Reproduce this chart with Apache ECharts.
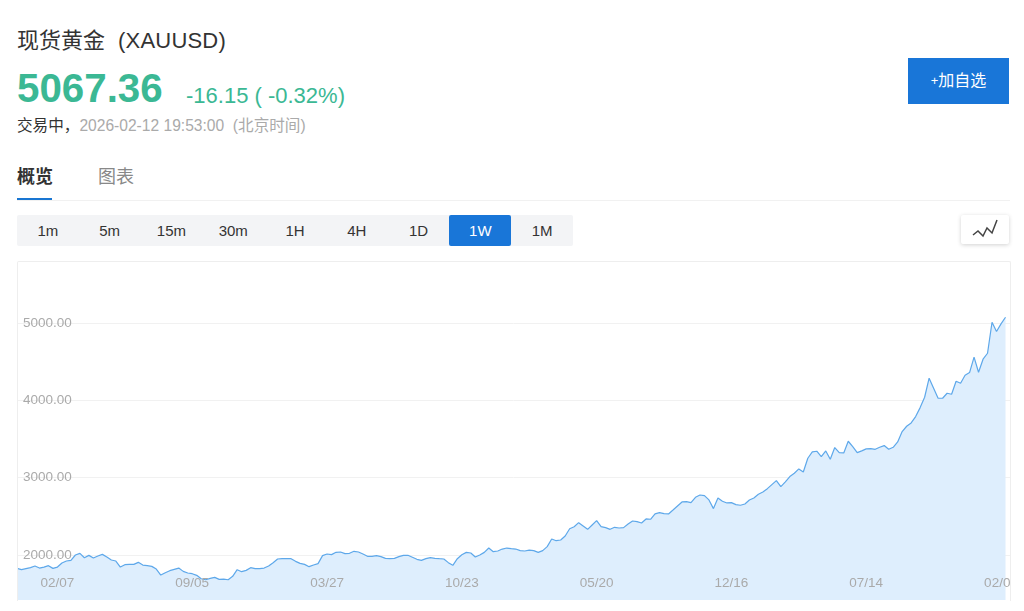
<!DOCTYPE html>
<html>
<head>
<meta charset="utf-8">
<title>现货黄金 (XAUUSD)</title>
<script src="https://cdn.jsdelivr.net/npm/echarts@6/dist/echarts.min.js"></script>
<style>
html, body { margin: 0; padding: 0; background: #fff; overflow: hidden; }
body { width: 1024px; height: 611px; position: relative; font-family: "Liberation Sans", "Noto Sans CJK SC", sans-serif; color: #333; }
.abs { position: absolute; white-space: nowrap; }
#title { left: 17px; top: 27px; font-size: 22px; line-height: 28px; color: #333; }
#title span { margin-left: 13px; letter-spacing: 0.2px; }
#price { left: 17px; top: 66px; font-size: 40.3px; line-height: 46px; font-weight: bold; color: #3bb894; }
#change { left: 186px; top: 82px; font-size: 22px; line-height: 28px; color: #3bb894; }
#status { left: 17px; top: 117px; font-size: 15.6px; line-height: 18px; color: #aaa; }
#status b { font-weight: normal; color: #333; }
#addBtn { left: 908px; top: 58px; width: 101px; height: 46px; line-height: 46px; text-align: center; background: #1976d8; color: #fff; font-size: 16px; }
#addBtn span { font-size: 13px; position: relative; top: -1px; }
#tab1 { left: 17px; top: 166px; font-size: 18px; line-height: 22px; font-weight: bold; color: #333; }
#tab2 { left: 98px; top: 166px; font-size: 18px; line-height: 22px; color: #888; }
#tabLine { left: 17px; top: 200px; width: 993px; height: 1px; background: #f1f1f1; }
#tabMark { left: 17px; top: 198px; width: 35px; height: 2px; background: #1976d2; }
#periods { left: 17px; top: 215px; width: 556px; height: 31px; background: #f3f4f6; border-radius: 2px; display: flex; }
#periods div { width: 61.8px; text-align: center; line-height: 31px; font-size: 15px; color: #333; }
#periods div.on { background: #1976d8; color: #fff; border-radius: 2px; }
#iconBtn { left: 961px; top: 215px; width: 48px; height: 29px; background: #fff; box-shadow: 0 1px 4px rgba(0,0,0,.18); border-radius: 2px; }
#chartBox { left: 17px; top: 261px; width: 993px; height: 339px; }
#chartBorder { left: 17px; top: 261px; width: 992px; height: 339px; border: 1px solid #eee; border-bottom: none; border-radius: 2px 2px 0 0; box-sizing: content-box; pointer-events: none; }
</style>
</head>
<body>
<div class="abs" id="title">现货黄金<span>(XAUUSD)</span></div>
<div class="abs" id="price">5067.36</div>
<div class="abs" id="change">-16.15 ( -0.32%)</div>
<div class="abs" id="status"><b>交易中，</b>2026-02-12 19:53:00&nbsp;&nbsp;(北京时间)</div>
<div class="abs" id="addBtn"><span>+</span>加自选</div>
<div class="abs" id="tab1">概览</div>
<div class="abs" id="tab2">图表</div>
<div class="abs" id="tabLine"></div>
<div class="abs" id="tabMark"></div>
<div class="abs" id="periods"></div>
<div class="abs" id="iconBtn">
    <svg width="48" height="29"><polyline points="12,20 17,16 22,21 26,13 31,18 36,5" fill="none" stroke="#444" stroke-width="1.5"/></svg>
</div>
<div class="abs" id="chartBox"></div>
<div class="abs" id="chartBorder"></div>

<script>
let periodNames = ['1m', '5m', '15m', '30m', '1H', '4H', '1D', '1W', '1M'];
let activePeriod = '1W';

// 周线收盘价，从图上读的
let prices2022 = [1827, 1810, 1823, 1836, 1857, 1831, 1844, 1862, 1827, 1844, 1896, 1922, 1931, 2000, 2021, 1965, 1995, 1961, 1987, 2008, 1974, 1935, 1922, 1844, 1875, 1879, 1879, 1905, 1870, 1862, 1853, 1818];
let prices2022b = [1741, 1771, 1797, 1814, 1831, 1788, 1767, 1758, 1737, 1693, 1680, 1698, 1711, 1685, 1689, 1680, 1724, 1810, 1784, 1801, 1836, 1823, 1823, 1831, 1857, 1900, 1948, 1952, 1952, 1952, 1918];
let prices2023 = [1892, 1879, 1849, 1871, 1888, 1992, 2013, 2005, 2035, 2039, 2017, 2022, 2048, 2039, 2013, 1983, 1983, 1992, 1979, 1957, 1953, 1957, 1979, 1996, 1996, 1970, 1944, 1931, 1953, 1966, 1957];
let prices2024 = [1952, 1948, 1901, 1866, 1952, 2004, 2034, 2026, 1974, 2000, 2034, 2090, 2043, 2052, 2077, 2090, 2082, 2077, 2056, 2052, 2064, 2056, 2034, 2056, 2108, 2207, 2185, 2194, 2246, 2340, 2366];
let prices2024b = [2418, 2375, 2332, 2388, 2444, 2367, 2354, 2332, 2358, 2349, 2354, 2401, 2440, 2431, 2414, 2466, 2462, 2531, 2548, 2535, 2531, 2582, 2634, 2686, 2690, 2677, 2746, 2776, 2768, 2712, 2600];
let prices2025 = [2738, 2695, 2673, 2677, 2651, 2643, 2660, 2712, 2738, 2785, 2815, 2858, 2910, 2962, 2884, 2945, 3014, 3057, 3113, 3074, 3251, 3333, 3342, 3272, 3346, 3238, 3389, 3324, 3320, 3471, 3402, 3324];
let prices2025b = [3346, 3372, 3376, 3367, 3393, 3415, 3367, 3393, 3462, 3596, 3665, 3708, 3790, 3906, 4040, 4286, 4156, 4027, 4027, 4092, 4079, 4247, 4221, 4325, 4359, 4558, 4363, 4532, 4609, 5010, 4890, 4989, 5075];

let yTickValues = [2000, 3000, 4000, 5000];
let tickLabels = ['02/07', '09/05', '03/27', '10/23', '05/20', '12/16', '07/14', '02/02'];

let prices = [].concat(prices2022, prices2022b, prices2023, prices2024, prices2024b, prices2025, prices2025b);

// 顶部周期按钮
periodNames.forEach(function (name) {
    let el = document.createElement('div');
    el.textContent = name;
    if (name === activePeriod) {
        el.className = 'on';
    }
    document.getElementById('periods').appendChild(el);
});

// 第一个刻度在第9根，之后每30根一个
let firstTick = 9;
let tickStep = 30;
let categories = prices.map(function (v, i) {
    let pos = (i - firstTick) / tickStep;
    return Number.isInteger(pos) && tickLabels[pos] ? tickLabels[pos] : '';
});
// 右边留一格空白
categories.push('');

let myChart = echarts.init(document.getElementById('chartBox'));

let option = {
    animation: false,
    grid: { left: 0, right: 0, top: 0, bottom: 0, outerBoundsMode: 'none' },
    xAxis: {
        type: 'category',
        boundaryGap: false,
        data: categories,
        z: 5,
        axisLine: { show: false },
        axisTick: { show: false },
        splitLine: { show: false },
        axisLabel: {
            inside: true,
            margin: 10,
            color: '#aaa',
            fontSize: 13.5,
            fontFamily: 'Liberation Sans',
            hideOverlap: false,
            interval: function (index, value) {
                return value !== '';
            }
        }
    },
    yAxis: {
        type: 'value',
        min: 1418,
        max: 5802,
        axisLine: { show: false },
        axisTick: { show: false, customValues: yTickValues },
        splitLine: { show: true, lineStyle: { color: '#f1f1f1', width: 1 } },
        axisLabel: {
            inside: true,
            margin: 6,
            color: '#aaa',
            fontSize: 13.5,
            fontFamily: 'Liberation Sans',
            customValues: yTickValues,
            formatter: function (v) {
                return v.toFixed(2);
            }
        }
    },
    series: [{
        type: 'line',
        data: prices,
        symbol: 'none',
        smooth: false,
        lineStyle: { color: '#5ea8ea', width: 1.2 },
        areaStyle: { color: '#deeefd', opacity: 1 }
    }]
};

myChart.setOption(option);
</script>
</body>
</html>
